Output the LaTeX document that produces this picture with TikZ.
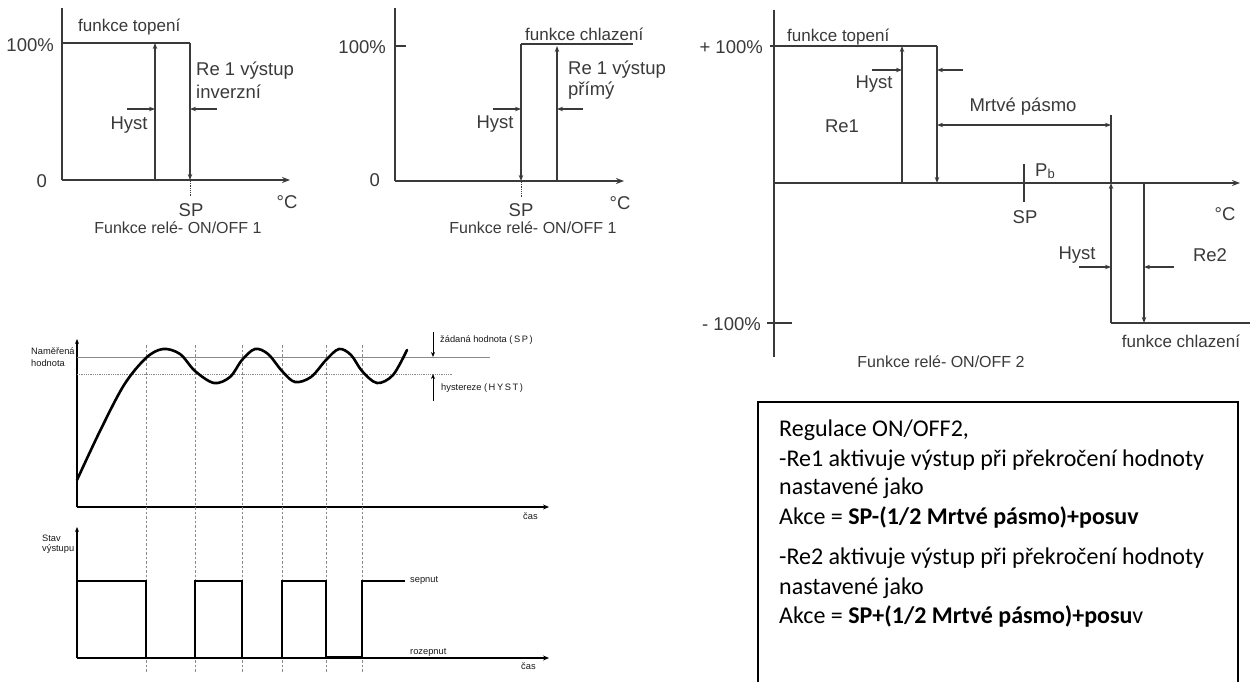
\documentclass[tikz,border=0pt]{standalone}
\usepackage{fontspec}
\setmainfont{Liberation Sans}
\newfontfamily\calib{Carlito}
\usetikzlibrary{arrows.meta}
\definecolor{ln}{HTML}{3A3A3A}
\definecolor{gl}{HTML}{8A8A8A}
\begin{document}
\begin{tikzpicture}[x=1pt,y=-1pt,
  ax/.style={draw=ln, line width=1.4pt},
  axa/.style={draw=ln, line width=1.4pt, -{Stealth[length=8pt,width=6pt]}},
  ar/.style={draw=ln, line width=1.1pt, -{Stealth[length=6pt,width=4.5pt]}},
  sar/.style={draw=black, line width=0.9pt, -{Stealth[length=5pt,width=4pt]}},
  big/.style={text=ln, font=\fontsize{18.5}{21}\selectfont, inner sep=0pt},
  mid/.style={text=ln, font=\fontsize{17}{19}\selectfont, inner sep=0pt},
  captxt/.style={text=ln, font=\fontsize{16}{18}\selectfont, inner sep=0pt},
  tiny/.style={text=black!90, font=\fontsize{9.3}{11}\selectfont, inner sep=0pt},
  vdash/.style={draw=gl, line width=0.6pt, dash pattern=on 2.5pt off 2pt},
  wave/.style={draw=black, line width=2.6pt},
  box/.style={text=black, font=\calib\fontsize{24}{29}\selectfont, inner sep=0pt, anchor=west}
]
\useasboundingbox (0,0) rectangle (1250,682);
\fill[white] (0,0) rectangle (1250,682);

% ===== Top-left diagram =====
\coordinate (a0) at (62,180);
\coordinate (aY) at (62,8);
\coordinate (aX) at (290,180);
\draw[ax] (aY) -- (a0);
\draw[axa] (a0) -- (aX);
\draw[ax] (62,43) -- (190,43);
\coordinate (aUp0) at (155,180); \coordinate (aUp1) at (155,43);
\coordinate (aDn0) at (190,43); \coordinate (aDn1) at (190,180);
\draw[ar] (aUp0) -- (aUp1);
\draw[ar] (aDn0) -- (aDn1);
\draw[ln, densely dotted, line width=0.8pt] (190,181) -- (190,197);
\draw[ar] (127,109) -- (155,109);
\draw[ar] (217,109) -- (190,109);
\node[big, anchor=east] (aP) at (54,45) {100\%};
\node[big, anchor=east] (aZ) at (47,181) {0};
\node[mid, anchor=west] (aF) at (78,27) {funkce topení};
\node[big, anchor=west] (aR1) at (196,71) {Re 1 výstup};
\node[big, anchor=west] (aR2) at (196,92) {inverzní};
\node[big] (aH) at (129,125) {Hyst};
\node[big] (aSP) at (191,210) {SP};
\node[big] (aC) at (287,202) {°C};
\node[captxt] (aT) at (178,228) {Funkce relé- ON/OFF 1};

% ===== Top-middle diagram =====
\coordinate (b0) at (395,181);
\coordinate (bY) at (395,8);
\coordinate (bX) at (624,181);
\draw[ax] (bY) -- (b0);
\draw[axa] (b0) -- (bX);
\draw[ax] (395,46) -- (406,46);
\draw[ax] (521,44) -- (633,44);
\draw[ar] (521,44) -- (521,181);
\draw[ar] (557,181) -- (557,46);
\draw[ln, densely dotted, line width=0.8pt] (521,182) -- (521,197);
\draw[ar] (493,109) -- (521,109);
\draw[ar] (583,109) -- (557,109);
\node[big, anchor=east] (bP) at (386,47) {100\%};
\node[big, anchor=east] (bZ) at (380,180) {0};
\node[mid, anchor=west] (bF) at (525,34) {funkce chlazení};
\node[big, anchor=west] (bR1) at (568,70) {Re 1 výstup};
\node[big, anchor=west] (bR2) at (568,91) {přímý};
\node[big] (bH) at (495,124) {Hyst};
\node[big] (bSP) at (521,210) {SP};
\node[big] (bC) at (620,203) {°C};
\node[captxt] (bT) at (533,228) {Funkce relé- ON/OFF 1};

% ===== Top-right diagram =====
\coordinate (c0) at (774,183);
\draw[ax] (774,10) -- (774,357);
\draw[axa] (c0) -- (1240,183);
\draw[ax] (770,46) -- (937,46);
\draw[ar] (902,183) -- (902,46);
\draw[ar] (937,46) -- (937,183);
\draw[ar] (872,70) -- (902,70);
\draw[ar] (963,70) -- (937,70);
\draw[draw=ln, line width=1.1pt, {Stealth[length=6pt,width=4.5pt]}-{Stealth[length=6pt,width=4.5pt]}] (937,125) -- (1111,125);
\draw[ax] (1111,115) -- (1111,183);
\draw[ax] (1024,164) -- (1024,202);
\draw[ar] (1111,323) -- (1111,183);
\draw[ar] (1144,183) -- (1144,323);
\draw[ax] (1111,323) -- (1250,323);
\draw[ax] (767,323) -- (792,323);
\draw[ar] (1079,267) -- (1111,267);
\draw[ar] (1174,267) -- (1144,267);
\node[big, anchor=east] (cP) at (763,47) {+ 100\%};
\node[big, anchor=east] (cM) at (761,324) {- 100\%};
\node[mid, anchor=west] (cF) at (787,37) {funkce topení};
\node[big] (cH1) at (874,84) {Hyst};
\node[big] (cRe1) at (842,126) {Re1};
\node[big] (cMP) at (1023,107) {Mrtvé pásmo};
\node[big, anchor=west] (cPb) at (1035,171) {P\raisebox{-2pt}{\fontsize{13}{14}\selectfont b}};
\node[big] (cSP) at (1025,217) {SP};
\node[big] (cC) at (1225,214) {°C};
\node[big] (cH2) at (1077,255) {Hyst};
\node[big] (cRe2) at (1210,255) {Re2};
\node[mid] (cF2) at (1181,341) {funkce chlazení};
\node[captxt] (cT) at (941,362) {Funkce relé- ON/OFF 2};

% ===== Bottom-left: measured value =====
\draw[draw=black, line width=1.2pt, -{Stealth[length=5pt,width=4pt]}] (77,507) -- (77,339);
\draw[draw=black, line width=1.2pt, -{Stealth[length=6pt,width=5pt]}] (77,507) -- (549,507);
\draw[draw=gl, line width=0.9pt] (77,357) -- (490,357);
\draw[draw=gl, line width=0.8pt, densely dotted] (77,374) -- (452,374);
\foreach \xx in {146,195,242,282,326,362} {
  \draw[vdash] (\xx,345) -- (\xx,672);
}
\draw[draw=black, line width=2.6pt, line cap=round] plot[smooth, tension=0.55] coordinates {
 (77,480) (100,431) (124,385) (146,358) (163,349) (180,354) (195,371) (214,383) (230,377) (242,360) (255,349) (268,354) (282,371) (295,382) (311,377) (326,360) (339,349) (351,355) (362,371) (377,383) (393,375) (407,350)};
\draw[sar] (433,332) -- (433,357);
\draw[sar] (433,401) -- (433,374);
\node[tiny, anchor=west] (dN1) at (31,351) {Naměřená};
\node[tiny, anchor=west] (dN2) at (31,363) {hodnota};
\node[tiny, anchor=west] (dSP) at (440,340) {žádaná hodnota (\,S\,P\,)};
\node[tiny, anchor=west] (dHY) at (441,388) {hystereze (\,H\,Y\,S\,T\,)};
\node[tiny, anchor=west] (dT1) at (523,516) {čas};

% ===== Bottom-left: output state =====
\draw[draw=black, line width=1.2pt, -{Stealth[length=5pt,width=4pt]}] (77,658) -- (77,527);
\draw[draw=black, line width=1.2pt, -{Stealth[length=6pt,width=5pt]}] (77,658) -- (549,658);
\draw[wave] (77,581) -- (146,581) -- (146,658) -- (195,658) -- (195,581) -- (242,581) -- (242,658) -- (282,658) -- (282,581) -- (326,581) -- (326,657) -- (362,657) -- (362,581) -- (405,581);
\node[tiny, anchor=west] (dS1) at (42,538) {Stav};
\node[tiny, anchor=west] (dS2) at (42,549) {výstupu};
\node[tiny, anchor=west] (dSe) at (410,580) {sepnut};
\node[tiny, anchor=west] (dRo) at (410,652) {rozepnut};
\node[tiny, anchor=west] (dT2) at (521,666) {čas};

% ===== Text box =====
\draw[draw=black, line width=1.6pt] (758,690) -- (758,402) -- (1238,402) -- (1238,690);
\node[box] (t1) at (779,430) {Regulace ON/OFF2,};
\node[box] (t2) at (779,460) {-Re1 aktivuje výstup při překročení hodnoty};
\node[box] (t3) at (779,488) {nastavené jako};
\node[box] (t4) at (779,517) {Akce = \textbf{SP-(1/2 Mrtvé pásmo)+posuv}};
\node[box] (t5) at (779,558) {-Re2 aktivuje výstup při překročení hodnoty};
\node[box] (t6) at (779,588) {nastavené jako};
\node[box] (t7) at (779,616) {Akce = \textbf{SP+(1/2 Mrtvé pásmo)+posu}v};
\end{tikzpicture}
\end{document}
